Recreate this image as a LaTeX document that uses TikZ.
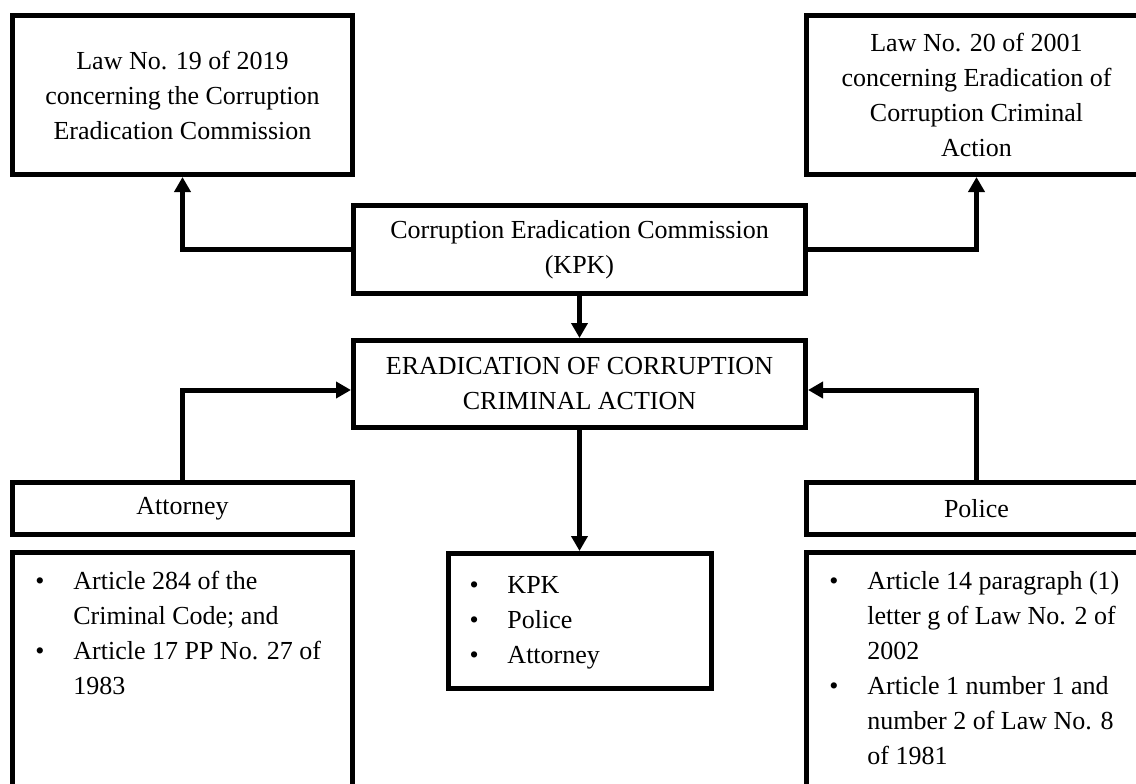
\documentclass[tikz,border=0pt]{standalone}
\usepackage{fontspec}
\setmainfont{Liberation Serif}
\usetikzlibrary{arrows.meta}

\begin{document}
\begin{tikzpicture}[x=0.5pt,y=-0.5pt,
    box/.style={draw, line width=2.5pt, align=center, font=\fontsize{13}{17.5}\selectfont},
    lawbox/.style={box, minimum width=170pt, minimum height=79.5pt},
    midbox/.style={box, minimum width=226pt, minimum height=44pt},
    agency/.style={box, minimum width=170pt, minimum height=26pt},
    listbox/.style={draw, line width=2.5pt, minimum width=170pt, minimum height=173.75pt},
    items/.style={anchor=north west, inner sep=0pt, font=\fontsize{13}{17.5}\selectfont},
    link/.style={line width=2.5pt, -{Triangle[width=8pt,length=7.5pt]}}]
    \useasboundingbox (0,0) rectangle (1136,783);
    \clip (0,0) rectangle (1136,783);

    % laws on top
    \node[lawbox] (lawA) at (182.5,95) {Law No. 19 of 2019\\concerning the Corruption\\Eradication Commission};
    \node[lawbox] (lawB) at (976.5,95) {Law No. 20 of 2001\\concerning Eradication of\\Corruption Criminal\\Action};

    \node[midbox] (kpk) at (579.5,249.5) {Corruption Eradication Commission\\(KPK)};
    \node[midbox, minimum height=43.5pt] (crime) at (579.5,384) {ERADICATION OF CORRUPTION\\CRIMINAL ACTION};

    \foreach \name/\x/\txt in {attorney/182.5/Attorney, police/976.5/Police} {
        \node[agency] (\name) at (\x,508.5) {\txt};
        \node[listbox] (\name List) at (\x,726) {};
    }

    \node[items] (attItems) at (35,565) {\begin{tabular}{@{}p{19pt}@{}l@{}}
        \textbullet & Article 284 of the\\
                    & Criminal Code; and\\
        \textbullet & Article 17 PP No. 27 of\\
                    & 1983
    \end{tabular}};
    \node[items] (polItems) at (829,565) {\begin{tabular}{@{}p{19pt}@{}l@{}}
        \textbullet & Article 14 paragraph (1)\\
                    & letter g of Law No. 2 of\\
                    & 2002\\
        \textbullet & Article 1 number 1 and\\
                    & number 2 of Law No. 8\\
                    & of 1981
    \end{tabular}};

    \node[box, align=left, text width=110pt, minimum width=131.5pt, minimum height=67.5pt] (members) at (579.5,621) {\begin{tabular}{@{}p{19pt}@{}l@{}}
        \textbullet & KPK\\
        \textbullet & Police\\
        \textbullet & Attorney
    \end{tabular}};

    % connectors
    \draw[link] (kpk.west) -| (lawA.south);
    \draw[link] (kpk.east) -| (lawB.south);
    \draw[link] (kpk.south) -- (crime.north);
    \draw[link] (attorney.north) |- ([yshift=-3pt]crime.west);
    \draw[link] (police.north) |- ([yshift=-3pt]crime.east);
    \draw[link] (crime.south) -- (members.north);
\end{tikzpicture}
\end{document}
